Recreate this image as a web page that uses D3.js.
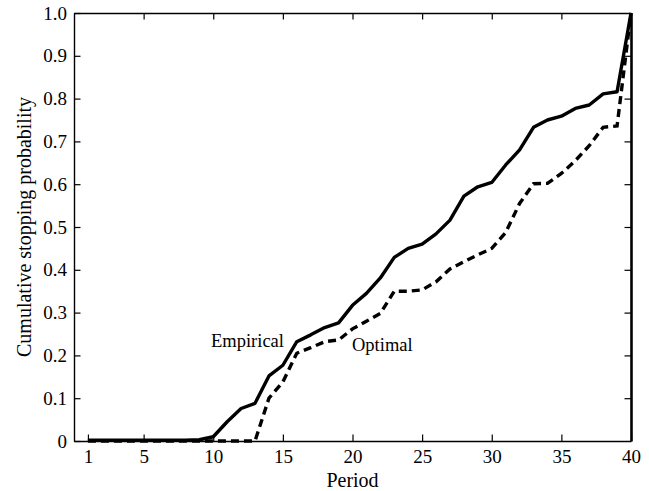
<!DOCTYPE html>
<html>
<head>
<meta charset="utf-8">
<script src="https://cdn.jsdelivr.net/npm/d3@7"></script>
<style>
  body { margin: 0; background: #fff; }
  text { font-family: "Liberation Serif", "Times New Roman", serif; fill: #000; }
</style>
</head>
<body>
<div id="container"></div>
<script>
let w = 649;
let h = 491;

// data
let periods = d3.range(1, 41);
let empirical = [
  0.002, 0.002, 0.002, 0.002, 0.002, 0.002, 0.002, 0.002, 0.003, 0.01,
  0.045, 0.076, 0.088, 0.152, 0.177, 0.232, 0.248, 0.265, 0.276, 0.317,
  0.345, 0.381, 0.429, 0.45, 0.46, 0.484, 0.516, 0.572, 0.594, 0.604,
  0.645, 0.68, 0.733, 0.75, 0.759, 0.777, 0.785, 0.811, 0.816, 1.0
];
let optimal = [
  0, 0, 0, 0, 0, 0, 0, 0, 0, 0,
  0, 0, 0, 0.1, 0.138, 0.205, 0.218, 0.232, 0.236, 0.262,
  0.28, 0.298, 0.35, 0.35, 0.353, 0.372, 0.402, 0.419, 0.435, 0.45,
  0.487, 0.555, 0.601, 0.602, 0.625, 0.655, 0.69, 0.733, 0.736, 1.0
];
let xTicks = [1, 5, 10, 15, 20, 25, 30, 35, 40];
let xTopTicks = [5, 10, 15, 20, 25, 30, 35];
let yTicks = [0, 0.1, 0.2, 0.3, 0.4, 0.5, 0.6, 0.7, 0.8, 0.9, 1.0];
let yLabel = "Cumulative stopping probability";
let xLabel = "Period";

let margin = {left: 74, right: 18, top: 13, bottom: 50};

let viz = d3.select("#container")
  .append("svg")
  .attr("width", w)
  .attr("height", h);

let x = d3.scaleLinear().domain([0, 40]).range([margin.left, w - margin.right]);
let y = d3.scaleLinear().domain([0, 1]).range([h - margin.bottom, margin.top]);

function fmtY(d) {
  if (d === 0) return "0";
  return d3.format(".1f")(d);
}

// bottom axis
let xAxis = viz.append("g")
  .attr("transform", "translate(0," + y(0) + ")")
  .call(d3.axisBottom(x).tickValues(xTicks).tickSizeInner(-6.5).tickSizeOuter(0).tickPadding(9));
// left axis
let yAxis = viz.append("g")
  .attr("transform", "translate(" + x(0) + ",0)")
  .call(d3.axisLeft(y).tickValues(yTicks).tickFormat(fmtY).tickSizeInner(-6.5).tickSizeOuter(0).tickPadding(7));
// top ticks
let topAxis = viz.append("g")
  .attr("transform", "translate(0," + y(1) + ")")
  .call(d3.axisTop(x).tickValues(xTopTicks).tickSizeInner(-6.5).tickSizeOuter(0).tickFormat(""));
// right ticks
let rightAxis = viz.append("g")
  .attr("transform", "translate(" + x(40) + ",0)")
  .call(d3.axisRight(y).tickValues(yTicks.slice(1, 10)).tickSizeInner(-6.5).tickSizeOuter(0).tickFormat(""));

viz.selectAll(".domain").attr("stroke", "#000").attr("stroke-width", 1.4);
viz.selectAll(".tick line").attr("stroke", "#000").attr("stroke-width", 1.2);
viz.selectAll(".tick text")
  .attr("fill", "#000")
  .attr("font-family", "Liberation Serif")
  .style("font-size", "19px");
rightAxis.select(".domain").attr("stroke-width", 2.6);

let lineMaker = d3.line()
  .x((d, i) => x(periods[i]))
  .y(d => y(d));

viz.append("path")
  .datum(optimal)
  .attr("d", lineMaker)
  .attr("fill", "none")
  .attr("stroke", "#000")
  .attr("stroke-width", 3.4)
  .attr("stroke-dasharray", "8,5");

viz.append("path")
  .datum(empirical)
  .attr("d", lineMaker)
  .attr("fill", "none")
  .attr("stroke", "#000")
  .attr("stroke-width", 3.4)
  .attr("stroke-linejoin", "round");

// labels on the curves
viz.append("text")
  .attr("x", 211)
  .attr("y", 347)
  .style("font-size", "18.5px")
  .text("Empirical");

viz.append("text")
  .attr("x", 352)
  .attr("y", 351)
  .style("font-size", "18.5px")
  .text("Optimal");

// axis titles
viz.append("text")
  .attr("x", (x(0) + x(40)) / 2)
  .attr("y", 487)
  .attr("text-anchor", "middle")
  .style("font-size", "20px")
  .text(xLabel);

viz.append("text")
  .attr("transform", "translate(31," + ((y(0) + y(1)) / 2) + ") rotate(-90)")
  .attr("text-anchor", "middle")
  .style("font-size", "20px")
  .text(yLabel);
</script>
</body>
</html>
